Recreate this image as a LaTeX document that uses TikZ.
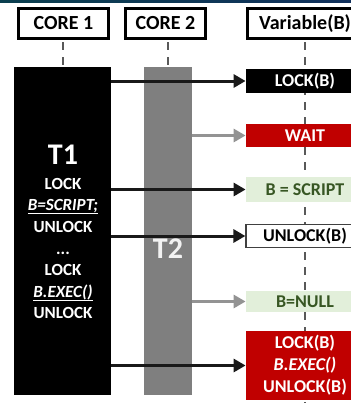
\documentclass[tikz,border=0pt]{standalone}
\usepackage{fontspec}
\setmainfont{Carlito}
\usetikzlibrary{arrows.meta, positioning, calc}
\definecolor{boxred}{HTML}{C00000}
\definecolor{boxgreen}{HTML}{E2EFDA}
\definecolor{textgreen}{HTML}{375623}
\definecolor{bargray}{HTML}{7F7F7F}
\definecolor{arrowgray}{HTML}{939393}
\definecolor{linegray}{HTML}{595959}
\definecolor{stripa}{HTML}{0B3F4F}
\definecolor{stripb}{HTML}{10305C}
\newcommand{\codeline}[1]{\underline{\smash{\textit{#1}}}}

\begin{document}
\begin{tikzpicture}[x=0.5pt, y=-0.5pt,
    header/.style={draw=black, line width=1.35pt, fill=white, inner sep=0pt,
      minimum height=15pt, font=\fontsize{10}{12}\selectfont\bfseries},
    lifeline/.style={draw=linegray, line width=1pt, dash pattern=on 4pt off 3.5pt},
    bar/.style={inner sep=0pt, minimum height=164pt},
    barname/.style={font=\fontsize{15}{18}\selectfont\bfseries},
    code/.style={text=white, align=center, font=\fontsize{8.5}{10.8}\selectfont\bfseries},
    state/.style={inner sep=0pt, minimum width=59pt, align=center,
      font=\fontsize{9}{11}\selectfont\bfseries},
    blkarrow/.style={draw=black!90, line width=1.5pt, -{Triangle[length=6pt, width=6.5pt]}},
    grayarrow/.style={draw=arrowgray, line width=1.5pt, -{Triangle[length=6pt, width=6.5pt]}}]

  \clip (0,0) rectangle (351,403);
  \shade[left color=stripa, right color=stripb] (0,0) rectangle (351,2.5);

  % lifelines
  \draw[lifeline] (63,42) -- (63,67);
  \draw[lifeline] (168,42) -- (168,67);
  \draw[lifeline] (305,42) -- (305,403);

  % headers
  \node[header, minimum width=45pt] (core1) at (63.5,23.5) {CORE 1};
  \node[header, minimum width=40pt] (core2) at (165.5,23.5) {CORE 2};
  \node[header, minimum width=57.5pt] (var) at (305,23.5) {Variable(B)};

  % threads
  \node[bar, fill=black, minimum width=48.5pt] (t1) at (62.5,231) {};
  \node[bar, fill=bargray, minimum width=24pt] (t2) at (168,231) {};
  \node[barname, text=white] (t1name) at (63,155) {T1};
  \node[code] (t1code) at (63,248.5) {LOCK\\ \codeline{B=SCRIPT;}\\ UNLOCK\\ ...\\ LOCK\\ \codeline{B.EXEC()}\\ UNLOCK};
  \node[barname, text=black!5] (t2name) at (168,249) {T2};

  % variable states
  \node[state, fill=black, text=white, minimum height=12pt] (lockb) at (305,81) {LOCK(B)};
  \node[state, fill=boxred, text=white, minimum height=11.5pt] (wait) at (305,135.5) {WAIT};
  \node[state, fill=boxgreen, text=textgreen, minimum height=12.5pt] (bscript) at (305,189.5) {B = SCRIPT};
  \node[state, fill=white, draw=black!75, line width=0.6pt, minimum height=11.5pt] (unlockb) at (305,236) {UNLOCK(B)};
  \node[state, fill=boxgreen, text=textgreen, minimum height=10.5pt] (bnull) at (305,301.5) {B=NULL};
  \node[state, fill=boxred, text=white, minimum height=34.5pt] (execb) at (305,365.5) {LOCK(B)\\ \textit{B.EXEC()}\\ UNLOCK(B)};

  % accesses
  \draw[blkarrow] (t1.east |- lockb) -- (lockb.west);
  \draw[grayarrow] (t2.east |- wait) -- (wait.west);
  \draw[blkarrow] (t1.east |- bscript) -- (bscript.west);
  \draw[blkarrow] (t1.east |- unlockb) -- (unlockb.west);
  \draw[grayarrow] (t2.east |- bnull) -- (bnull.west);
  \draw[blkarrow] (t1.east |- execb) -- (execb.west);

\end{tikzpicture}
\end{document}
